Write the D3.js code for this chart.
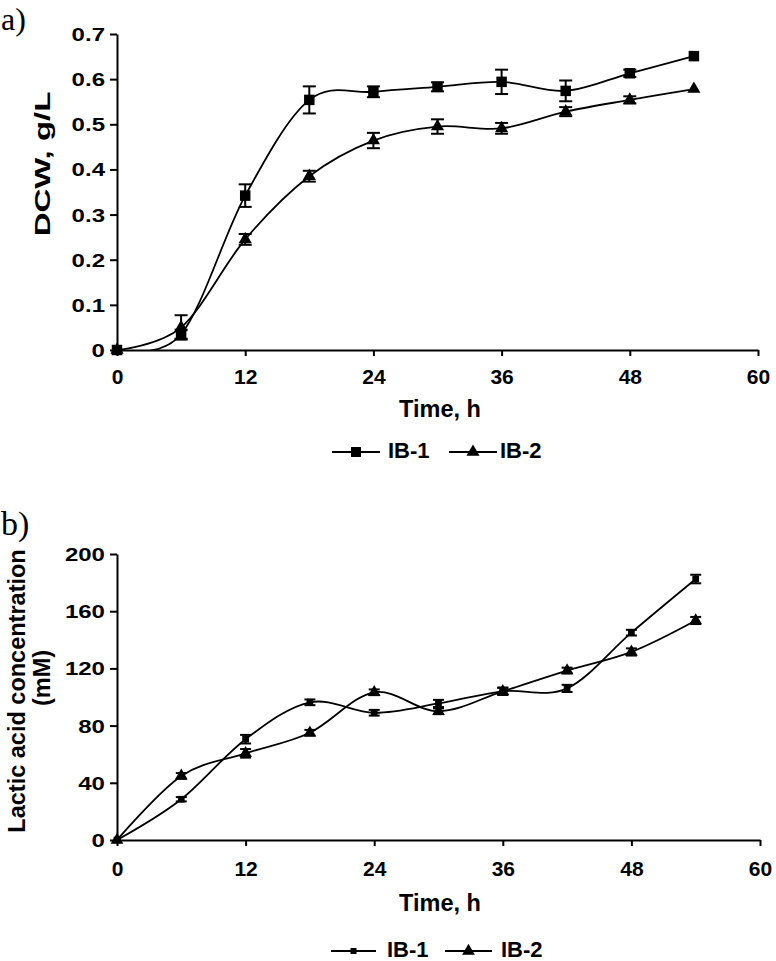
<!DOCTYPE html>
<html><head><meta charset="utf-8">
<script src="https://cdn.jsdelivr.net/npm/d3@7"></script>
<style>
body{margin:0;background:#fff}
svg{display:block}
text{font-family:"Liberation Sans",Arial,sans-serif;font-weight:bold;fill:#000}
</style>
</head><body>
<svg id="c" width="776" height="961"></svg>
<script>
// ---- data ----
const times = [0, 6, 12, 18, 24, 30, 36, 42, 48, 54];
const xTicks = [0, 12, 24, 36, 48, 60];
const seriesNames = ["IB-1", "IB-2"];

const dcwIB1    = [0, 0.035, 0.342, 0.554, 0.572, 0.583, 0.594, 0.574, 0.613, 0.651];
const dcwIB1Err = [0, 0.010, 0.025, 0.030, 0.012, 0.010, 0.027, 0.023, 0.008, 0];
const dcwIB2    = [0, 0.050, 0.245, 0.385, 0.464, 0.495, 0.491, 0.528, 0.554, 0.578];
const dcwIB2Err = [0, 0.027, 0.012, 0.012, 0.017, 0.016, 0.012, 0.010, 0.008, 0];
const dcwTicks  = [0, 0.1, 0.2, 0.3, 0.4, 0.5, 0.6, 0.7];
const dcwTickLabels = ["0", "0.1", "0.2", "0.3", "0.4", "0.5", "0.6", "0.7"];

const laIB1    = [0, 28.5, 70.5, 96.3, 89, 95.5, 104, 106, 145, 182.5];
const laIB1Err = [0, 1.5, 3, 2, 2, 2.5, 2.5, 2.5, 2, 3];
const laIB2    = [0, 44.8, 60.6, 75, 103.3, 90, 104, 118.5, 131.5, 153.5];
const laIB2Err = [0, 2, 3, 2, 2, 2, 2.5, 2, 2.5, 2.5];
const laTicks  = [0, 40, 80, 120, 160, 200];
const laTickLabels = ["0", "40", "80", "120", "160", "200"];

// ---- drawing ----
const svg = d3.select("#c");

function panel(o) {
  const g = svg.append("g");
  const x = d3.scaleLinear().domain([0, 60]).range([o.x0, o.x1]);
  const y = d3.scaleLinear().domain([o.yTicks[0], o.yTicks[o.yTicks.length - 1]]).range([o.y0, o.y1]);

  svg.append("clipPath").attr("id", o.id + "clip")
    .append("rect").attr("x", o.x0).attr("y", o.y1 - 30)
    .attr("width", o.x1 - o.x0 + 10).attr("height", o.y0 - o.y1 + 30);

  // axes
  const xa = g.append("g").attr("transform", `translate(0,${o.y0})`)
    .call(d3.axisBottom(x).tickValues(xTicks).tickSize(6).tickSizeOuter(0).tickFormat(d3.format("d")));
  xa.attr("font-size", 21).attr("font-family", "Liberation Sans, Arial, sans-serif");
  xa.selectAll("text").attr("y", o.xLabelY).attr("dy", 0).style("font-size", "21px");
  const ya = g.append("g").attr("transform", `translate(${o.x0},0)`)
    .call(d3.axisLeft(y).tickValues(o.yTicks).tickSize(7).tickSizeOuter(0)
      .tickFormat((d, i) => o.yLabels[i]));
  ya.attr("font-size", 18.5).attr("font-family", "Liberation Sans, Arial, sans-serif");
  ya.selectAll("text").attr("x", -12 / 1.3).attr("dy", 0).attr("y", 6.5)
    .attr("transform", "scale(1.3,1)").style("font-size", "18.5px");
  g.selectAll(".domain, .tick line").attr("stroke", "#000").attr("stroke-width", 2);
  g.selectAll(".tick text").attr("fill", "#000");

  // lines
  const line = d3.line().x((d, i) => x(times[i])).y(d => y(d)).curve(d3.curveCardinal.tension(0));
  o.series.forEach(s => {
    g.append("path").attr("d", line(s.values)).attr("fill", "none")
      .attr("stroke", "#000").attr("stroke-width", 1.8)
      .attr("clip-path", `url(#${o.id}clip)`);
  });
  // error bars + markers
  o.series.forEach(s => {
    const eg = g.append("g").attr("stroke", "#000").attr("stroke-width", 2);
    s.values.forEach((v, i) => {
      const e = s.errs[i];
      if (e > 0) {
        const cx = x(times[i]);
        eg.append("line").attr("x1", cx).attr("x2", cx).attr("y1", y(v - e)).attr("y2", y(v + e));
        [v - e, v + e].forEach(c => eg.append("line")
          .attr("x1", cx - o.cap).attr("x2", cx + o.cap).attr("y1", y(c)).attr("y2", y(c)));
      }
    });
    g.append("g").selectAll("path").data(s.values).join("path")
      .attr("transform", (d, i) => `translate(${x(times[i])},${y(d)})`)
      .attr("d", d3.symbol().type(s.symbol).size(s.size))
      .attr("fill", "#000");
  });

  // x title
  g.append("text").attr("x", o.titleX).attr("y", o.xTitleY).attr("text-anchor", "middle")
    .style("font-size", "23.5px").text("Time, h");

  // legend
  const L = o.legend;
  o.series.forEach((s, k) => {
    const l = L.items[k];
    g.append("line").attr("x1", l.x1).attr("x2", l.x2).attr("y1", L.y).attr("y2", L.y)
      .attr("stroke", "#000").attr("stroke-width", 2);
    g.append("path").attr("transform", `translate(${(l.x1 + l.x2) / 2},${L.y})`)
      .attr("d", d3.symbol().type(s.symbol).size(s.legendSize)).attr("fill", "#000");
    g.append("text").attr("x", l.tx).attr("y", L.y + 6).style("font-size", "22px").text(seriesNames[k]);
  });
  return g;
}

panel({
  id: "a", x0: 117, x1: 758, y0: 350, y1: 34,
  yTicks: dcwTicks, yLabels: dcwTickLabels, xLabelY: 34, xTitleY: 417, titleX: 440, cap: 6.5,
  series: [
    { values: dcwIB1, errs: dcwIB1Err, symbol: d3.symbolSquare, size: 110, legendSize: 100 },
    { values: dcwIB2, errs: dcwIB2Err, symbol: d3.symbolTriangle, size: 75, legendSize: 75 }
  ],
  legend: { y: 452, items: [{ x1: 332, x2: 380, tx: 388 }, { x1: 449, x2: 497, tx: 500 }] }
});

panel({
  id: "b", x0: 117, x1: 760, y0: 840, y1: 554,
  yTicks: laTicks, yLabels: laTickLabels, xLabelY: 36, xTitleY: 911, titleX: 440, cap: 5.5,
  series: [
    { values: laIB1, errs: laIB1Err, symbol: d3.symbolSquare, size: 45, legendSize: 36 },
    { values: laIB2, errs: laIB2Err, symbol: d3.symbolTriangle, size: 70, legendSize: 70 }
  ],
  legend: { y: 951, items: [{ x1: 331, x2: 376, tx: 387 }, { x1: 445, x2: 492, tx: 501 }] }
});

// y titles
svg.append("text").attr("transform", "translate(50,164) rotate(-90) scale(1.5,1)")
  .attr("text-anchor", "middle").style("font-size", "22px").text("DCW, g/L");
svg.append("text").attr("transform", "translate(25,691) rotate(-90)")
  .attr("text-anchor", "middle").style("font-size", "23.5px").text("Lactic acid concentration");
svg.append("text").attr("transform", "translate(50,678) rotate(-90)")
  .attr("text-anchor", "middle").style("font-size", "23.5px").text("(mM)");

// panel labels
svg.append("text").attr("x", 1).attr("y", 30).style("font-family", "'Liberation Serif','Times New Roman',serif")
  .style("font-weight", "normal").style("font-size", "32px").text("a)");
svg.append("text").attr("x", 1).attr("y", 535).style("font-family", "'Liberation Serif','Times New Roman',serif")
  .style("font-weight", "normal").style("font-size", "34px").text("b)");
</script>
</body></html>
